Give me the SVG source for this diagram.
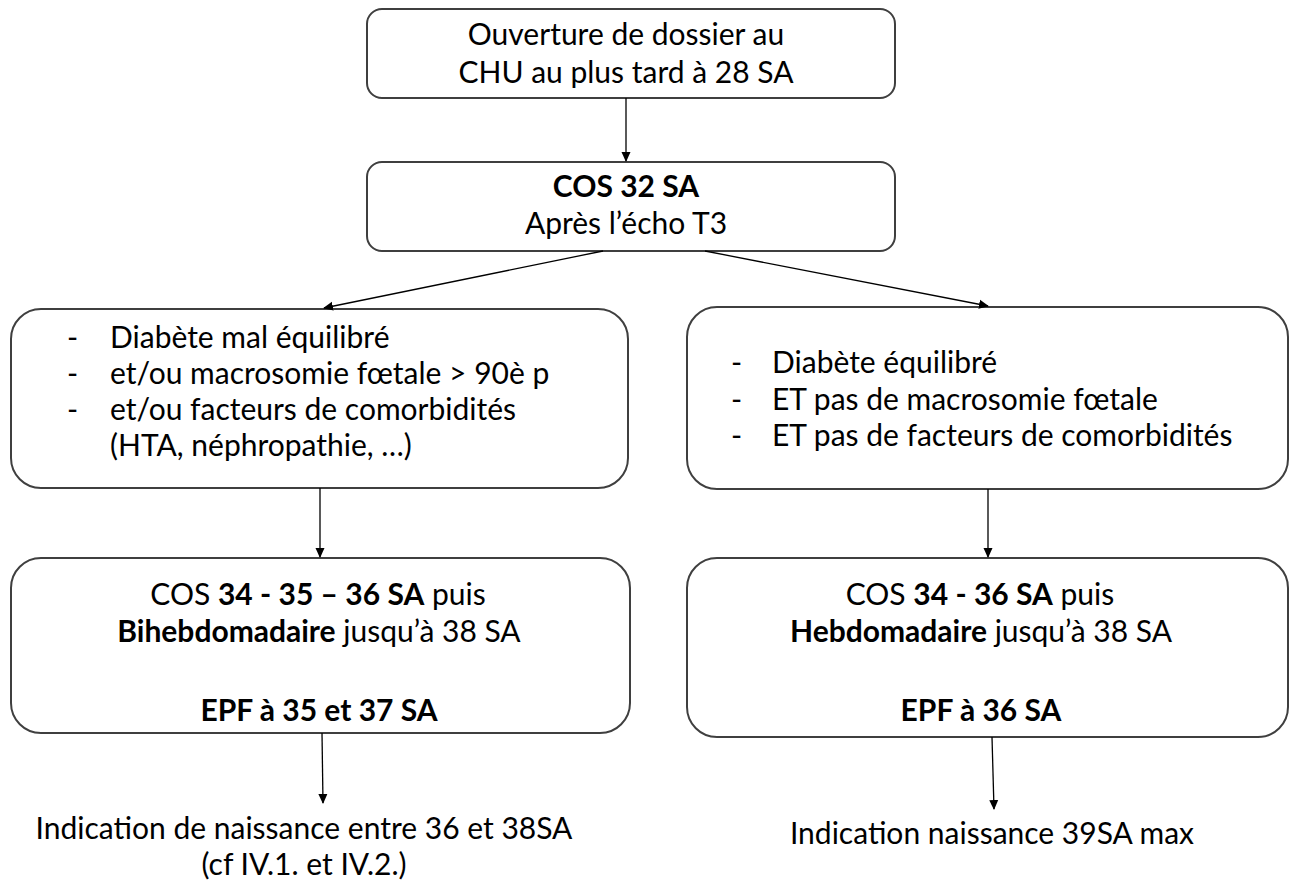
<svg xmlns="http://www.w3.org/2000/svg" width="1290" height="884" viewBox="0 0 1290 884">
<style>
.box{fill:#fff;stroke:#3f3f3f;stroke-width:2}
text{font-family:Lato,"Liberation Sans",sans-serif;font-size:30px;fill:#000}
.c{text-anchor:middle}
.b{font-weight:bold}
.conn line{stroke:#000;stroke-width:1.3}
</style>
<defs>
<marker id="ah" markerWidth="10" markerHeight="10" refX="9" refY="5" orient="auto" markerUnits="userSpaceOnUse">
<path d="M0,0.5 L10,5 L0,9.5 Z" fill="#000"/>
</marker>
</defs>
<rect width="1290" height="884" fill="#fff"/>
<g id="n1">
<rect class="box" x="367" y="9" width="528" height="89" rx="15"/>
<text class="c" x="626" y="45">Ouverture de dossier au</text>
<text class="c" x="626" y="83">CHU au plus tard à 28 SA</text>
</g>
<g id="n2">
<rect class="box" x="367" y="162" width="528" height="89" rx="15"/>
<text class="c b" x="626" y="197">COS 32 SA</text>
<text class="c" x="626" y="234">Après l’écho T3</text>
</g>
<g id="n3">
<rect class="box" x="11" y="309" width="617" height="179" rx="30"/>
<text x="67" y="348">-</text><text x="110" y="348">Diabète mal équilibré</text>
<text x="67" y="384">-</text><text x="110" y="384">et/ou macrosomie fœtale &gt; 90è p</text>
<text x="67" y="420">-</text><text x="110" y="420">et/ou facteurs de comorbidités</text>
<text x="110" y="456">(HTA, néphropathie, …)</text>
</g>
<g id="n4">
<rect class="box" x="687" y="307" width="601" height="182" rx="30"/>
<text x="731" y="373">-</text><text x="772" y="373">Diabète équilibré</text>
<text x="731" y="410">-</text><text x="772" y="410">ET pas de macrosomie fœtale</text>
<text x="731" y="446">-</text><text x="772" y="446">ET pas de facteurs de comorbidités</text>
</g>
<g id="n5">
<rect class="box" x="11" y="558" width="619" height="175" rx="30"/>
<text class="c" x="318" y="605">COS <tspan class="b">34 - 35 – 36 SA</tspan> puis</text>
<text class="c" x="319" y="642"><tspan class="b">Bihebdomadaire</tspan> jusqu’à 38 SA</text>
<text class="c b" x="319" y="721">EPF à 35 et 37 SA</text>
</g>
<g id="n6">
<rect class="box" x="687" y="558" width="601" height="179" rx="30"/>
<text class="c" x="980" y="605">COS <tspan class="b">34 - 36 SA</tspan> puis</text>
<text class="c" x="981" y="642"><tspan class="b">Hebdomadaire</tspan> jusqu’à 38 SA</text>
<text class="c b" x="981" y="721">EPF à 36 SA</text>
</g>
<g id="n7">
<text class="c" x="304" y="839">Indication de naissance entre 36 et 38SA</text>
<text class="c" x="304" y="875">(cf IV.1. et IV.2.)</text>
</g>
<g id="n8">
<text class="c" x="992" y="844">Indication naissance 39SA max</text>
</g>
<g class="conn">
<line x1="626" y1="98" x2="626" y2="161" marker-end="url(#ah)"/>
<line x1="603" y1="251" x2="324" y2="308" marker-end="url(#ah)"/>
<line x1="705" y1="251" x2="988" y2="306" marker-end="url(#ah)"/>
<line x1="320" y1="488" x2="320" y2="557" marker-end="url(#ah)"/>
<line x1="988" y1="489" x2="988" y2="557" marker-end="url(#ah)"/>
<line x1="322" y1="733" x2="323" y2="803" marker-end="url(#ah)"/>
<line x1="992" y1="737" x2="994" y2="809" marker-end="url(#ah)"/>
</g>
</svg>
